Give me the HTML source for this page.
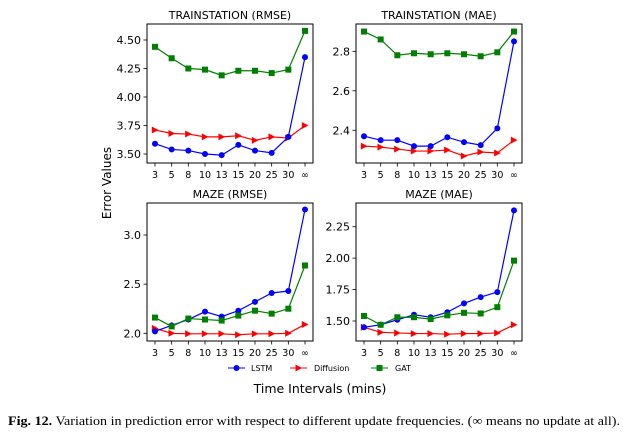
<!DOCTYPE html>
<html><head><meta charset="utf-8"><style>
body{margin:0;background:#fff;width:623px;height:435px;overflow:hidden}
svg text{font-family:"DejaVu Sans","Liberation Sans",sans-serif;fill:#000}
svg text.cap{font-family:"Liberation Serif",serif}
</style></head><body>
<svg id="fig" width="623" height="435" viewBox="0 0 623 435" xmlns="http://www.w3.org/2000/svg">
<text x="0" y="0" font-size="12" text-anchor="middle" transform="translate(111,183) rotate(-90)">Error Values</text>
<text x="320" y="393" font-size="12.5" text-anchor="middle">Time Intervals (mins)</text>
<g font-size="8">
<g><line x1="228" y1="368" x2="245" y2="368" stroke="#0000ff"/><circle cx="236.5" cy="368" r="3" fill="#0000ff"/><text x="251" y="371">LSTM</text></g>
<g><line x1="290" y1="368" x2="307" y2="368" stroke="#ff0000"/><path d="M295.5,364.5 L302,368 L295.5,371.5Z" fill="#ff0000"/><text x="314" y="371">Diffusion</text></g>
<g><line x1="371" y1="368" x2="388" y2="368" stroke="#008000"/><rect x="376.5" y="365" width="6" height="6" fill="#008000"/><text x="395" y="371">GAT</text></g>
</g>
<text class="cap" x="8" y="425" font-size="12.6" textLength="612" lengthAdjust="spacingAndGlyphs"><tspan font-weight="bold">Fig. 12.</tspan>  Variation in prediction error with respect to different update frequencies. (∞ means no update at all).</text>
</svg>
<script>
const categories=["3","5","8","10","13","15","20","25","30","∞"];
const tlLSTM=[3.59,3.54,3.53,3.50,3.49,3.58,3.53,3.51,3.65,4.35];
const tlDiff=[3.71,3.68,3.675,3.65,3.65,3.66,3.62,3.65,3.64,3.75];
const tlGAT=[4.44,4.34,4.25,4.24,4.19,4.23,4.23,4.21,4.24,4.58];
const trLSTM=[2.37,2.35,2.35,2.32,2.32,2.365,2.34,2.325,2.41,2.85];
const trDiff=[2.32,2.315,2.305,2.295,2.295,2.30,2.27,2.29,2.285,2.35];
const trGAT=[2.90,2.86,2.78,2.79,2.785,2.79,2.785,2.775,2.795,2.90];
const blLSTM=[2.02,2.08,2.14,2.22,2.17,2.23,2.32,2.41,2.43,3.26];
const blDiff=[2.05,2.00,1.995,1.995,1.995,1.985,1.995,1.995,2.00,2.09];
const blGAT=[2.16,2.07,2.15,2.14,2.13,2.18,2.23,2.20,2.25,2.69];
const brLSTM=[1.45,1.47,1.51,1.55,1.53,1.57,1.64,1.69,1.73,2.38];
const brDiff=[1.45,1.41,1.405,1.40,1.40,1.395,1.40,1.40,1.405,1.47];
const brGAT=[1.54,1.47,1.53,1.53,1.515,1.545,1.565,1.56,1.61,1.98];
const tlTicks=[3.50,3.75,4.00,4.25,4.50];
const trTicks=[2.4,2.6,2.8];
const blTicks=[2.0,2.5,3.0];
const brTicks=[1.50,1.75,2.00,2.25];

const NS="http://www.w3.org/2000/svg";
const svg=document.getElementById('fig');
function mk(tag,attrs,parent){const e=document.createElementNS(NS,tag);for(const k in attrs)e.setAttribute(k,attrs[k]);parent.appendChild(e);return e;}

function panel(name,title,L,T,R,B,v0,y0,v1,y1,ticks,dec,series){
  const g=mk('g',{},svg);
  
  
  const xs=i=>L+8+i*(R-L-16)/(categories.length-1);
  const ys=v=>y0+(v-v0)*(y1-y0)/(v1-v0);
  const fr=mk('rect',{x:L,y:T,width:R-L,height:B-T,fill:'none',stroke:'#000','stroke-width':1},g);
  
  
  const tt=mk('text',{x:(L+R)/2,y:T-5,'font-size':11,'text-anchor':'middle'},g);
  tt.textContent=title;
  
  
  ticks.forEach(v=>{
    const y=ys(v);
    mk('line',{x1:L-3.5,x2:L,y1:y,y2:y,stroke:'#000','stroke-width':0.8},g);
    const t=mk('text',{x:L-6,y:y+4,'font-size':11,'text-anchor':'end'},g);
    t.textContent=v.toFixed(dec);
    
    
  });
  categories.forEach((c,i)=>{
    const x=xs(i);
    mk('line',{x1:x,x2:x,y1:B,y2:B+3.5,stroke:'#000','stroke-width':0.8},g);
    const t=mk('text',{x:x,y:B+15,'font-size':9.5,'text-anchor':'middle'},g);
    t.textContent=c;
    
    
  });
  series.forEach(([vals,color,mark,sname])=>{
    const sg=mk('g',{},g);
    
    
    mk('polyline',{points:vals.map((v,i)=>xs(i)+','+ys(v)).join(' '),fill:'none',stroke:color,'stroke-width':1.2},sg);
    vals.forEach((v,i)=>{
      const x=xs(i),y=ys(v);let m;
      if(mark==='o')m=mk('circle',{cx:x,cy:y,r:3,fill:color},sg);
      else if(mark==='>')m=mk('path',{d:`M${x-3.2},${y-3.5} L${x+3.5},${y} L${x-3.2},${y+3.5}Z`,fill:color},sg);
      else m=mk('rect',{x:x-3,y:y-3,width:6,height:6,fill:color},sg);
      
      
    });
  });
}
panel('panel-trainstation-rmse','TRAINSTATION (RMSE)',147,24,313,163,3.5,154,4.5,40,tlTicks,2,[[tlGAT,'#008000','s','series-gat'],[tlDiff,'#ff0000','>','series-diffusion'],[tlLSTM,'#0000ff','o','series-lstm']]);
panel('panel-trainstation-mae','TRAINSTATION (MAE)',356,24,522,163,2.4,130.3,2.8,51.3,trTicks,1,[[trGAT,'#008000','s','series-gat'],[trDiff,'#ff0000','>','series-diffusion'],[trLSTM,'#0000ff','o','series-lstm']]);
panel('panel-maze-rmse','MAZE (RMSE)',147,203,313,341,2.0,333.3,3.0,235,blTicks,1,[[blDiff,'#ff0000','>','series-diffusion'],[blLSTM,'#0000ff','o','series-lstm'],[blGAT,'#008000','s','series-gat']]);
panel('panel-maze-mae','MAZE (MAE)',356,203,522,341,1.5,321,2.25,226.7,brTicks,2,[[brDiff,'#ff0000','>','series-diffusion'],[brLSTM,'#0000ff','o','series-lstm'],[brGAT,'#008000','s','series-gat']]);
</script>
</body></html>
